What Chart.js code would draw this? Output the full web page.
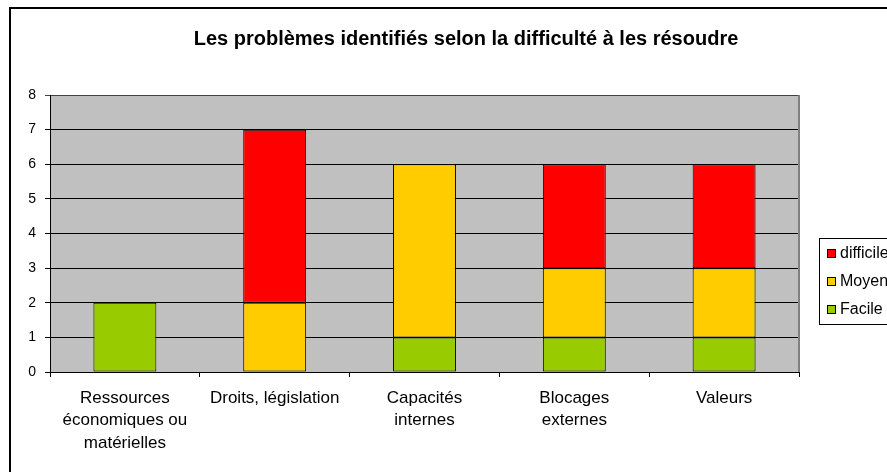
<!DOCTYPE html>
<html>
<head>
<meta charset="utf-8">
<script src="https://cdn.jsdelivr.net/npm/chart.js@4.4.4/dist/chart.umd.min.js"></script>
<style>
  html, body { margin: 0; padding: 0; background: #fff; overflow: hidden; }
  body { width: 887px; height: 472px; position: relative; font-family: Arial, "Liberation Sans", sans-serif; }
  #wrap { position: absolute; left: 0; top: 0; width: 932px; height: 472px; }
  #frame { position: absolute; left: 9px; top: 7px; width: 1000px; height: 600px; border: 2px solid #000; box-sizing: border-box; pointer-events: none; }
  #title { position: absolute; left: 0; width: 932px; top: 26px; text-align: center; font-size: 20px; font-weight: bold; line-height: 24px; color: #000; }
</style>
</head>
<body>
<div id="wrap"><canvas id="chart"></canvas></div>
<div id="frame"></div>
<div id="title">Les problèmes identifiés selon la difficulté à les résoudre</div>
<script>
const categories = [
  ['Ressources', 'économiques ou', 'matérielles'],
  ['Droits, législation'],
  ['Capacités', 'internes'],
  ['Blocages', 'externes'],
  ['Valeurs'],
];
const facile = [2, 0, 1, 1, 1];
const moyen = [0, 2, 5, 2, 2];
const difficile = [0, 5, 0, 3, 3];
const yTicks = [0, 1, 2, 3, 4, 5, 6, 7, 8];

const FONT = 'Arial, "Liberation Sans", sans-serif';

// grey plot background + darker right edge
const plotBg = {
  id: 'plotBg',
  beforeDraw(chart) {
    const { ctx, chartArea: a } = chart;
    ctx.save();
    ctx.fillStyle = '#c0c0c0';
    ctx.fillRect(a.left, a.top, a.right - a.left, a.bottom - a.top);
    ctx.restore();
  },
  afterDatasetsDraw(chart) {
    const { ctx, chartArea: a } = chart;
    ctx.save();
    ctx.strokeStyle = '#808080';
    ctx.lineWidth = 2;
    ctx.beginPath();
    ctx.moveTo(a.right, a.top);
    ctx.lineTo(a.right, a.bottom);
    ctx.stroke();
    ctx.restore();
  }
};

// boxed legend to the right of the plot, top series first
const boxLegend = {
  id: 'boxLegend',
  afterDraw(chart) {
    const { ctx, chartArea: a } = chart;
    const x = a.right + 20, y = 238, w = 100, h = 86;
    ctx.save();
    ctx.fillStyle = '#fff';
    ctx.fillRect(x, y, w, h);
    ctx.strokeStyle = '#000';
    ctx.lineWidth = 1;
    ctx.strokeRect(x + 0.5, y + 0.5, w, h);
    const items = chart.data.datasets.slice().reverse();
    ctx.font = '16px ' + FONT;
    ctx.textBaseline = 'middle';
    items.forEach((ds, i) => {
      const cy = y + 15 + i * 28;
      ctx.fillStyle = ds.backgroundColor;
      ctx.fillRect(x + 8, cy - 4, 9, 9);
      ctx.strokeStyle = '#000';
      ctx.strokeRect(x + 8.5, cy - 3.5, 8, 8);
      ctx.fillStyle = '#000';
      ctx.fillText(ds.label, x + 21, cy + 1);
    });
    ctx.restore();
  }
};

const barStyle = { borderColor: '#000', borderWidth: 1, borderSkipped: false, barPercentage: 0.42, categoryPercentage: 1 };

new Chart(document.getElementById('chart'), {
  type: 'bar',
  data: {
    labels: categories,
    datasets: [
      { label: 'Facile', data: facile, backgroundColor: '#99cc00', ...barStyle },
      { label: 'Moyen', data: moyen, backgroundColor: '#ffcc00', ...barStyle },
      { label: 'difficile', data: difficile, backgroundColor: '#ff0000', ...barStyle },
    ],
  },
  options: {
    responsive: true,
    maintainAspectRatio: false,
    animation: false,
    layout: { padding: { left: 0, right: 133, top: 95, bottom: 0 } },
    plugins: {
      legend: { display: false },
      tooltip: { enabled: false },
      title: { display: false },
    },
    scales: {
      x: {
        stacked: true,
        offset: true,
        grid: { display: true, drawOnChartArea: false, drawTicks: true, tickLength: 5, color: '#000', offset: true },
        border: { color: '#000', width: 1 },
        ticks: { color: '#000', font: { family: FONT, size: 17, lineHeight: 1.32 }, padding: 10, maxRotation: 0, autoSkip: false },
        afterFit(scale) { scale.height = 100; },
      },
      y: {
        stacked: true,
        min: 0,
        max: 8,
        afterBuildTicks(scale) { scale.ticks = yTicks.map(v => ({ value: v })); },
        grid: { color: (c) => c.tick && c.tick.value === 8 ? '#404040' : '#000', tickLength: 5, lineWidth: 1 },
        border: { color: '#000', width: 1 },
        ticks: { color: '#000', font: { family: FONT, size: 14 }, padding: 9 },
        afterFit(scale) { scale.width = 50; },
      },
    },
  },
  plugins: [plotBg, boxLegend],
});
</script>
</body>
</html>
